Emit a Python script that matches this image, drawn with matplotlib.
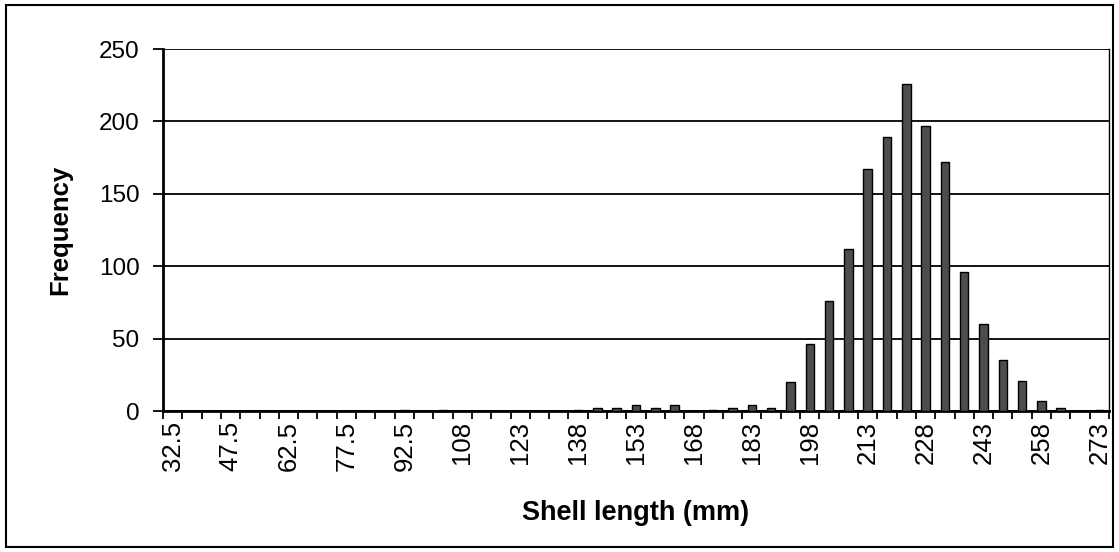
import matplotlib
matplotlib.use("Agg")
import matplotlib.pyplot as plt
from matplotlib.patches import Rectangle

plt.rcParams['font.family'] = ['Liberation Sans', 'DejaVu Sans']

# Datos: clases de longitud (mm) y frecuencias
bins = [32.5 + 5 * i for i in range(49)]
freq = [0, 0, 0, 0, 0, 0, 0, 0, 0, 0, 0, 0,
        1, 0, 1, 0, 0, 0, 0, 0, 0,
        1, 2, 2, 4, 2, 4, 0, 1, 2, 4, 2,
        20, 46, 76, 112, 167, 189, 226, 197, 172, 96, 60, 35, 21, 7, 2, 0, 1]
tick_labels = ['32.5', '47.5', '62.5', '77.5', '92.5', '108', '123', '138', '153',
               '168', '183', '198', '213', '228', '243', '258', '273']

fig = plt.figure(figsize=(11.19, 5.52), dpi=100)
ax = fig.add_axes([163 / 1119, 141 / 552, 946 / 1119, 362 / 552])

x = list(range(len(bins)))
ax.bar(x, freq, width=0.44, color='#4d4d4d', edgecolor='black', linewidth=1, zorder=3)

ax.set_xlim(-0.5, len(bins) - 0.5)
ax.set_ylim(0, 250)
ax.set_yticks([0, 50, 100, 150, 200, 250])
ax.yaxis.grid(True, color='black', linewidth=1.3, zorder=0)
ax.set_axisbelow(True)

# marcas entre categorias
ax.set_xticks([i - 0.5 for i in range(len(bins) + 1)], minor=True)
ax.set_xticks(x[::3])
ax.set_xticklabels(tick_labels, rotation=90, fontsize=18.5)
ax.tick_params(axis='x', which='major', length=0, pad=7)
ax.tick_params(axis='x', which='minor', length=6, width=1.3, direction='out')
ax.tick_params(axis='y', length=7, width=1.3, labelsize=17.5, pad=10)

ax.spines['top'].set_visible(False)
ax.spines['right'].set_linewidth(1)
ax.spines['left'].set_linewidth(2)
ax.spines['bottom'].set_linewidth(2)

ax.set_ylabel('Frequency', fontsize=18.5, fontweight='bold')
ax.yaxis.set_label_coords(-0.096, 0.5)
ax.set_xlabel('Shell length (mm)', fontsize=19.5, fontweight='bold')
ax.xaxis.set_label_coords(0.5, -0.245)

# borde del grafico
fig.patches.append(Rectangle((6 / 1119, 5 / 552), 1107 / 1119, 542 / 552,
                             transform=fig.transFigure, fill=False,
                             edgecolor='black', linewidth=1.5))

fig.savefig('out.png', dpi=100)
